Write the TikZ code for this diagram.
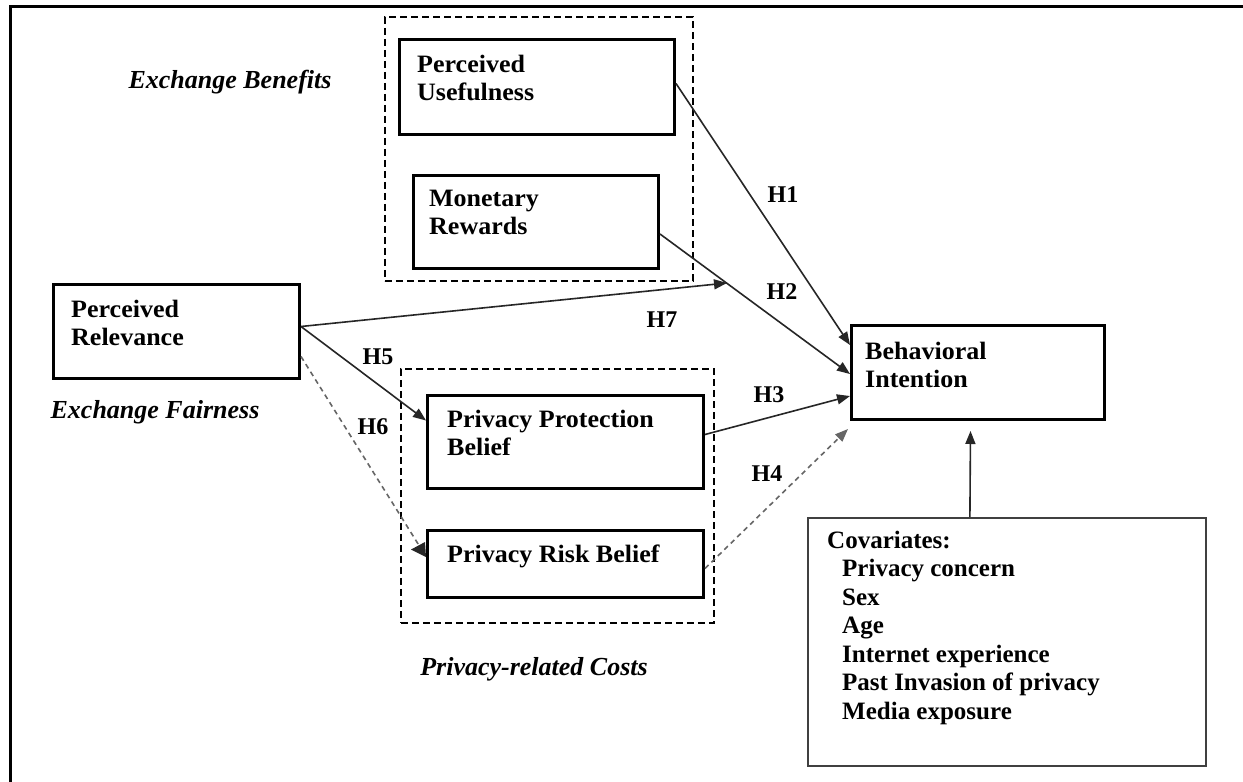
\documentclass[tikz,border=0pt]{standalone}
\usepackage{fontspec}
\setmainfont{Liberation Serif}
\newfontfamily\wideserif[FakeStretch=1.04]{Liberation Serif}
\usetikzlibrary{arrows.meta,calc}

\begin{document}
\begin{tikzpicture}[x=1pt,y=-1pt,
  box/.style={draw=black,line width=3pt,rectangle,inner sep=0pt,anchor=north west},
  covbox/.style={draw=black!75,line width=1.8pt,rectangle,inner sep=0pt,anchor=north west},
  grp/.style={draw=black,line width=1.8pt,dash pattern=on 7pt off 4pt,rectangle,inner sep=0pt,anchor=north west},
  lbl/.style={font=\wideserif\fontsize{25}{28}\selectfont\bfseries,align=left,inner sep=0pt,anchor=north west},
  covlbl/.style={font=\fontsize{25}{28.5}\selectfont\bfseries,align=left,inner sep=0pt,anchor=north west},
  cat/.style={font=\fontsize{26}{30}\selectfont\bfseries\itshape,inner sep=0pt,anchor=base},
  hyp/.style={font=\fontsize{24}{28}\selectfont\bfseries,inner sep=0pt},
  link/.style={line width=1.6pt,draw=black!85,-{Triangle[length=13pt,width=10pt]}},
  weak/.style={line width=1.6pt,draw=black!60,dash pattern=on 5pt off 4pt,-{Triangle[length=13pt,width=10pt]}}
]
\useasboundingbox (0,0) rectangle (1243,782);
\fill[white] (0,0) rectangle (1243,782);

% outer frame (top and left edges)
\draw[line width=3pt] (10,782) -- (10,6) -- (1243,6);

% group frames
\node[grp,minimum width=308pt,minimum height=264pt] (benefits) at (384,16) {};
\node[grp,minimum width=313pt,minimum height=254pt] (costs) at (400,368) {};

% construct boxes
\node[box,minimum width=275pt,minimum height=95pt] (pu)  at (398,38)  {};
\node[box,minimum width=245pt,minimum height=93pt] (mr)  at (412,174) {};
\node[box,minimum width=246pt,minimum height=94pt] (pr)  at (52,283)  {};
\node[box,minimum width=276pt,minimum height=93pt] (ppb) at (426,394) {};
\node[box,minimum width=276pt,minimum height=67pt] (prb) at (426,529) {};
\node[box,minimum width=253pt,minimum height=94pt] (bi)  at (850,324) {};
\node[covbox,minimum width=398pt,minimum height=248pt] (cov) at (807,517) {};

% box texts
\node[lbl] (put)  at ($(pu.north west)+(19,16.5)$)  {Perceived\\Usefulness};
\node[lbl] (mrt)  at ($(mr.north west)+(17,15.5)$)  {Monetary\\Rewards};
\node[lbl] (prt)  at ($(pr.north west)+(19,16.5)$)  {Perceived\\Relevance};
\node[lbl] (ppbt) at ($(ppb.north west)+(21,15.5)$) {Privacy Protection\\Belief};
\node[lbl] (prbt) at ($(prb.north west)+(21,15.5)$) {Privacy Risk Belief};
\node[lbl] (bit)  at ($(bi.north west)+(15,17.5)$)  {Behavioral\\Intention};
\node[covlbl] (covt) at ($(cov.north west)+(20,13.5)$) {Covariates:\\
  \hspace*{15pt}Privacy concern\\
  \hspace*{15pt}Sex\\
  \hspace*{15pt}Age\\
  \hspace*{15pt}Internet experience\\
  \hspace*{15pt}Past Invasion of privacy\\
  \hspace*{15pt}Media exposure};

% category captions
\node[cat] (eb) at (230,88)  {Exchange Benefits};
\node[cat] (ef) at (155,418) {Exchange Fairness};
\node[cat] (pc) at (534,675) {Privacy-related Costs};

% hypothesised paths
\coordinate (h7end) at (727,283);
\draw[link] ($(pu.east)+(0,-3.5)$)  -- ($(bi.north west)+(0,21)$);
\draw[link] ($(mr.east)+(0,12)$)    -- ($(bi.north west)+(0,50)$);
\draw[link] ($(ppb.east)+(0,-7.5)$) -- ($(bi.north west)+(0,72)$);
\draw[weak] ($(prb.east)+(0,4.5)$)  -- ($(bi.south west)+(-2,8)$);
\draw[link] ($(pr.east)+(0,-5)$)    -- (h7end);
\draw[link] ($(pr.east)+(0,-5)$)    -- ($(ppb.west)+(0,-21.5)$);
\draw[weak,-] ($(pr.east)+(0,25)$)  -- ($(prb.west)+(-6,-17)$);
\fill[black!85] ($(prb.west)+(-1,-22)$) -- ($(prb.west)+(-15,-14.5)$) -- ($(prb.west)+(0,-7)$) -- cycle;
\draw[link] ($(cov.north)+(-37,0)$) -- ($(bi.south)+(-7.5,10)$);

% path labels
\node[hyp] (h1) at (783,195) {H1};
\node[hyp] (h2) at (782,292) {H2};
\node[hyp] (h3) at (769,395) {H3};
\node[hyp] (h4) at (767,474) {H4};
\node[hyp] (h5) at (378,357) {H5};
\node[hyp] (h6) at (373,427) {H6};
\node[hyp] (h7) at (662,320) {H7};
\end{tikzpicture}
\end{document}
